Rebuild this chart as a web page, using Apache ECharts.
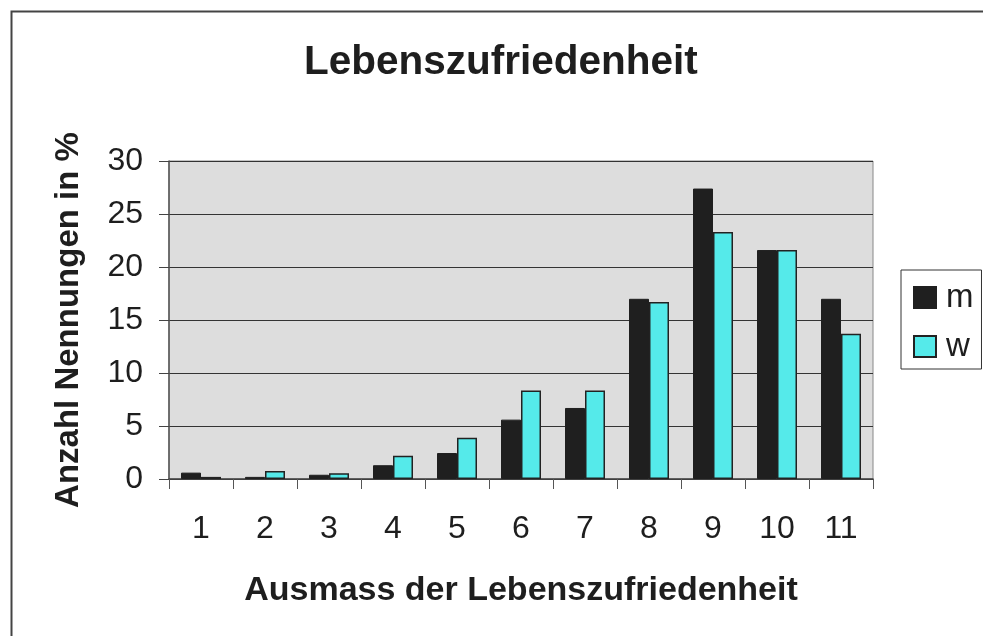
<!DOCTYPE html>
<html>
<head>
<meta charset="utf-8">
<script src="https://cdn.jsdelivr.net/npm/echarts@6/dist/echarts.min.js"></script>
<style>
  html, body { margin: 0; padding: 0; background: #fff; overflow: hidden; }
  #chart { width: 983px; height: 636px; }
</style>
</head>
<body>
<div id="chart"></div>
<script>
// Werte
const kategorien = ['1', '2', '3', '4', '5', '6', '7', '8', '9', '10', '11'];
const maenner = [0.6, 0.2, 0.4, 1.3, 2.45, 5.6, 6.7, 17.0, 27.4, 21.6, 17.0];
const frauen = [0.2, 0.75, 0.55, 2.2, 3.9, 8.35, 8.35, 16.7, 23.3, 21.6, 13.7];

const schrift = '"Liberation Sans", Arial, sans-serif';

let myChart = echarts.init(document.getElementById('chart'));

const option = {
  backgroundColor: '#fff',
  animation: false,
  title: {
    text: 'Lebenszufriedenheit',
    left: 304,
    top: 42,
    padding: 0,
    textStyle: {
      fontFamily: schrift,
      fontSize: 40.5,
      fontWeight: 'bold',
      color: '#1e1e1e'
    }
  },
  legend: {
    orient: 'vertical',
    left: 901,
    top: 270,
    padding: [11, 8, 6, 12],
    itemWidth: 22,
    itemHeight: 21,
    itemGap: 16,
    borderColor: '#333',
    borderWidth: 1,
    icon: 'rect',
    textStyle: { fontFamily: schrift, fontSize: 33, color: '#1e1e1e', padding: [0, 0, 0, 5] },
    data: ['m', 'w']
  },
  grid: {
    left: 169,
    top: 161,
    width: 704,
    height: 318,
    show: true,
    backgroundColor: '#dddddd',
    borderColor: '#888',
    borderWidth: 1
  },
  xAxis: {
    type: 'category',
    data: kategorien,
    name: 'Ausmass der Lebenszufriedenheit',
    nameLocation: 'middle',
    nameGap: 95,
    nameTextStyle: { fontFamily: schrift, fontSize: 34, fontWeight: 'bold', color: '#1e1e1e' },
    axisLine: { lineStyle: { color: '#444', width: 1.5 } },
    axisTick: { show: true, length: 10, lineStyle: { color: '#555' } },
    axisLabel: { margin: 34, fontFamily: schrift, fontSize: 32, color: '#1e1e1e' }
  },
  yAxis: {
    type: 'value',
    min: 0,
    max: 30,
    interval: 5,
    name: 'Anzahl Nennungen in %',
    nameLocation: 'middle',
    nameGap: 84,
    nameTextStyle: { fontFamily: schrift, fontSize: 33, fontWeight: 'bold', color: '#1e1e1e' },
    axisLine: { show: true, lineStyle: { color: '#555', width: 1.5 } },
    axisTick: { show: true, length: 10, lineStyle: { color: '#444' } },
    axisLabel: { margin: 26, fontFamily: schrift, fontSize: 32, color: '#1e1e1e' },
    splitLine: { lineStyle: { color: '#333', width: 1 } }
  },
  series: [
    {
      name: 'm',
      type: 'bar',
      data: maenner,
      barWidth: 20,
      barGap: '0%',
      itemStyle: { color: '#1f1f1f', borderColor: '#1f1f1f', borderWidth: 1 }
    },
    {
      name: 'w',
      type: 'bar',
      data: frauen,
      barWidth: 20,
      itemStyle: { color: '#55eaea', borderColor: '#222', borderWidth: 1.5 }
    }
  ],
  graphic: [
    {
      type: 'polyline',
      shape: { points: [[11.5, 636], [11.5, 11.5], [983, 11.5]] },
      style: { fill: null, stroke: '#444', lineWidth: 2 },
      silent: true
    }
  ]
};

myChart.setOption(option, true);
</script>
</body>
</html>
